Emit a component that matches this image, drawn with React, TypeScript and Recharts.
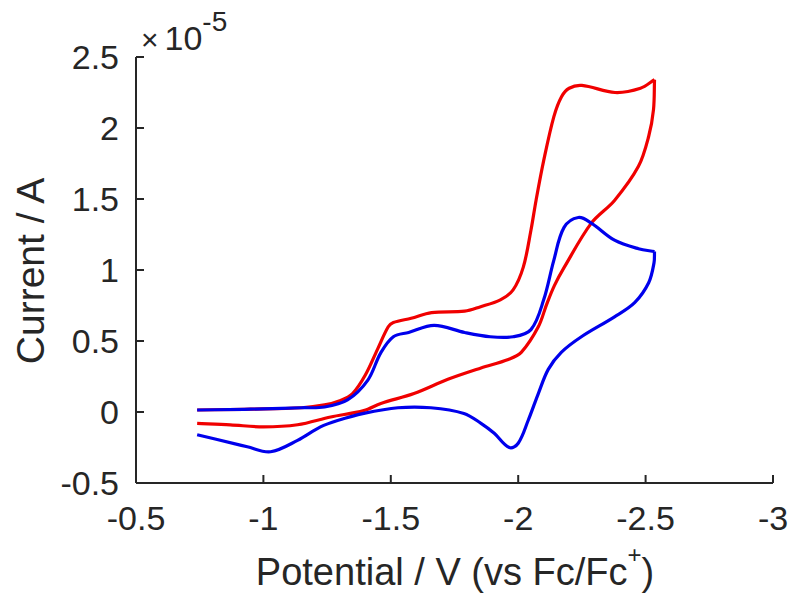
import { LineChart, Line, XAxis, YAxis } from 'recharts';

// potential (V vs Fc/Fc+) and current (x1e-5 A), split in forward / return sweeps
const redForwardE = [-0.74, -0.95, -1.15, -1.24, -1.3, -1.35, -1.4, -1.45, -1.49, -1.51, -1.58, -1.66, -1.79, -1.85, -1.93, -1.98, -2.02, -2.05, -2.07, -2.1, -2.14, -2.17, -2.2, -2.25, -2.38, -2.48, -2.535];
const redForwardI = [0.014, 0.02, 0.03, 0.05, 0.08, 0.13, 0.26, 0.45, 0.6, 0.63, 0.66, 0.7, 0.71, 0.74, 0.79, 0.86, 1.02, 1.28, 1.49, 1.77, 2.08, 2.22, 2.28, 2.3, 2.25, 2.28, 2.34];
const redReturnE = [-2.535, -2.531, -2.512, -2.472, -2.378, -2.287, -2.181, -2.142, -2.112, -2.079, -2.012, -1.961, -1.854, -1.724, -1.591, -1.461, -1.394, -1.264, -1.134, -1.0, -0.87, -0.74];
const redReturnI = [2.34, 2.13, 1.94, 1.73, 1.49, 1.33, 1.02, 0.89, 0.76, 0.6, 0.42, 0.37, 0.31, 0.23, 0.13, 0.06, 0.01, -0.035, -0.09, -0.105, -0.09, -0.08];

const blueForwardE = [-0.74, -0.95, -1.15, -1.24, -1.33, -1.41, -1.46, -1.51, -1.57, -1.67, -1.79, -1.89, -1.98, -2.05, -2.1, -2.14, -2.18, -2.236, -2.287, -2.378, -2.472, -2.535];
const blueForwardI = [0.014, 0.02, 0.03, 0.035, 0.085, 0.225, 0.415, 0.53, 0.56, 0.61, 0.56, 0.53, 0.53, 0.58, 0.79, 1.07, 1.3, 1.37, 1.33, 1.21, 1.15, 1.13];
const blueReturnE = [-2.535, -2.533, -2.512, -2.457, -2.378, -2.248, -2.169, -2.118, -2.079, -2.039, -2.0, -1.965, -1.906, -1.854, -1.787, -1.657, -1.528, -1.394, -1.291, -1.224, -1.134, -1.028, -0.937, -0.74];
const blueReturnI = [1.13, 1.05, 0.91, 0.77, 0.67, 0.53, 0.42, 0.3, 0.13, -0.06, -0.22, -0.25, -0.15, -0.08, -0.01, 0.03, 0.03, -0.01, -0.06, -0.105, -0.2, -0.28, -0.245, -0.16];

const xTicks = [-3, -2.5, -2, -1.5, -1, -0.5];
const yTicks = [-0.5, 0, 0.5, 1, 1.5, 2, 2.5];

const toPoints = (e: number[], i: number[]) => e.map((x, k) => ({ x, y: i[k] }));

const W = 800;
const H = 605;
const PLOT_LEFT = 136;
const PLOT_BOTTOM = 483;
const INK = '#262626';
const FONT = '"Liberation Sans", Arial, sans-serif';
const RED = '#f00000';
const BLUE = '#0000ec';

// smooth curve through the points, tangent follows neighbours, handle length = chord/3
const smoothCurve = (context: any) => {
  let pts: number[][] = [];
  return {
    areaStart() {},
    areaEnd() {},
    lineStart() {
      pts = [];
    },
    point(x: number, y: number) {
      pts.push([+x, +y]);
    },
    lineEnd() {
      const n = pts.length;
      if (!n) return;
      context.moveTo(pts[0][0], pts[0][1]);
      const dir = (a: number[], b: number[]) => {
        const dx = b[0] - a[0];
        const dy = b[1] - a[1];
        const len = Math.hypot(dx, dy) || 1;
        return [dx / len, dy / len];
      };
      for (let i = 0; i < n - 1; i++) {
        const p0 = pts[Math.max(i - 1, 0)];
        const p1 = pts[i];
        const p2 = pts[i + 1];
        const p3 = pts[Math.min(i + 2, n - 1)];
        const d = Math.hypot(p2[0] - p1[0], p2[1] - p1[1]) / 3;
        const t1 = dir(p0, p2);
        const t2 = dir(p1, p3);
        context.bezierCurveTo(p1[0] + t1[0] * d, p1[1] + t1[1] * d, p2[0] - t2[0] * d, p2[1] - t2[1] * d, p2[0], p2[1]);
      }
    },
  };
};

const YTick = (props: any) => {
  const { y, payload } = props;
  return (
    <g>
      <line x1={PLOT_LEFT} x2={PLOT_LEFT + 8} y1={y} y2={y} stroke={INK} strokeWidth={2} />
      <text x={PLOT_LEFT - 17} y={y} dy="0.36em" textAnchor="end" fill={INK} fontSize={34} fontFamily={FONT}>
        {payload.value}
      </text>
    </g>
  );
};

const XTick = (props: any) => {
  const { x, payload } = props;
  return (
    <g>
      <line x1={x} x2={x} y1={PLOT_BOTTOM} y2={PLOT_BOTTOM - 8} stroke={INK} strokeWidth={2} />
      <text x={x} y={530} textAnchor="middle" fill={INK} fontSize={34} fontFamily={FONT}>
        {payload.value}
      </text>
    </g>
  );
};

export default function App() {
  const lineProps = {
    dataKey: 'y',
    type: smoothCurve as any,
    dot: false,
    activeDot: false,
    strokeWidth: 3.2,
    isAnimationActive: false,
  };
  return (
    <div style={{ position: 'absolute', left: 0, top: 0, width: W, height: H, background: '#fff' }}>
      <LineChart width={W} height={H} margin={{ top: 57, right: 27, bottom: 62, left: 76 }}>
        <XAxis
          type="number"
          dataKey="x"
          domain={[-3, -0.5]}
          reversed
          ticks={xTicks}
          interval={0}
          height={60}
          axisLine={{ stroke: INK, strokeWidth: 2 }}
          tickLine={false}
          tick={<XTick />}
          allowDataOverflow
        />
        <YAxis
          type="number"
          domain={[-0.5, 2.5]}
          ticks={yTicks}
          interval={0}
          width={60}
          axisLine={{ stroke: INK, strokeWidth: 2 }}
          tickLine={false}
          tick={<YTick />}
          allowDataOverflow
        />
        <Line {...lineProps} data={toPoints(redForwardE, redForwardI)} stroke={RED} />
        <Line {...lineProps} data={toPoints(redReturnE, redReturnI)} stroke={RED} />
        <Line {...lineProps} data={toPoints(blueForwardE, blueForwardI)} stroke={BLUE} />
        <Line {...lineProps} data={toPoints(blueReturnE, blueReturnI)} stroke={BLUE} />
        <text x={141} y={50} fill={INK} fontSize={34} fontFamily={FONT}>
          <tspan fontSize={30}>×</tspan>
          <tspan dx={6}>10</tspan>
          <tspan dy={-19} fontSize={28}>-5</tspan>
        </text>
        <text
          x={30}
          y={271}
          transform="rotate(-90 30 271)"
          dy="0.35em"
          textAnchor="middle"
          fill={INK}
          fontSize={39}
          fontFamily={FONT}
        >
          Current / A
        </text>
        <text x={455} y={585} textAnchor="middle" fill={INK} fontSize={38} fontFamily={FONT}>
          <tspan>Potential / V (vs Fc/Fc</tspan>
          <tspan dy={-22} fontSize={24}>+</tspan>
          <tspan dy={22}>)</tspan>
        </text>
      </LineChart>
    </div>
  );
}
